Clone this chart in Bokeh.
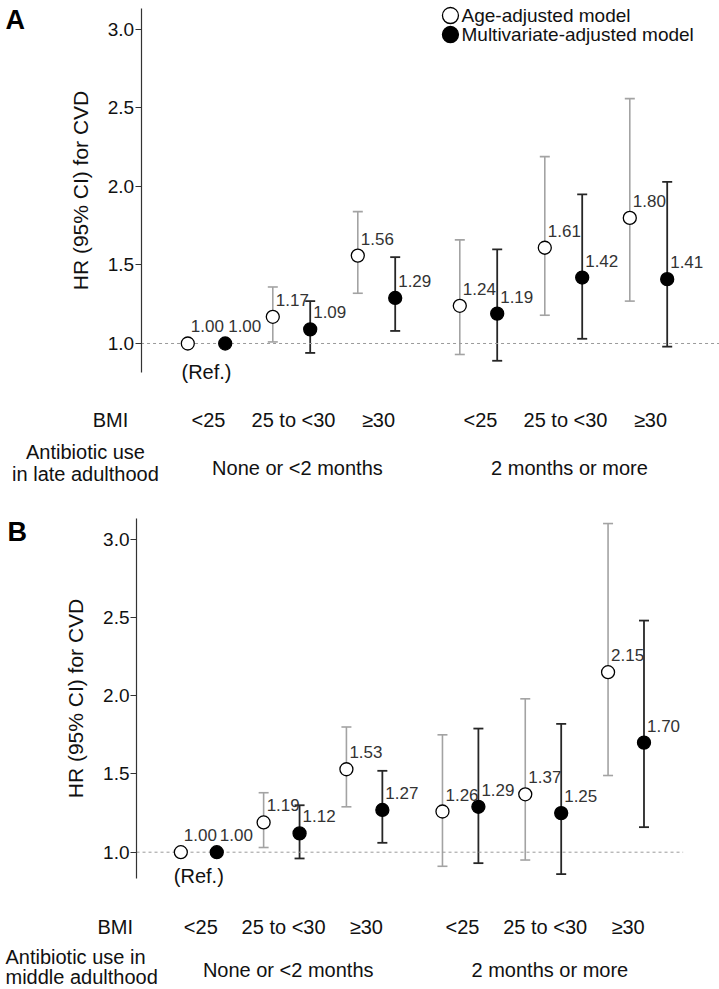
import math
from bokeh.plotting import figure
from bokeh.models import (ColumnDataSource, Whisker, TeeHead, LabelSet, Label, LinearAxis,
                          FixedTicker, NumeralTickFormatter, Range1d)
from bokeh.core.properties import value
from bokeh.layouts import column
from bokeh.embed import file_html
from bokeh.resources import INLINE

# ---------------- data ----------------
bmi_labels = ["<25", "25 to <30", "\u226530", "<25", "25 to <30", "\u226530"]
use_labels = ["None or <2 months", "2 months or more"]
y_ticks = [1.0, 1.5, 2.0, 2.5, 3.0]
legend_labels = ["Age-adjusted model", "Multivariate-adjusted model"]
y_title = "HR (95% CI) for CVD"
NA = float("nan")

# Panel A: antibiotic use in late adulthood
a_age_hr = [1.00, 1.17, 1.56, 1.24, 1.61, 1.80]
a_age_lo = [NA, 1.01, 1.32, 0.93, 1.18, 1.27]
a_age_hi = [NA, 1.36, 1.84, 1.66, 2.19, 2.56]
a_mv_hr = [1.00, 1.09, 1.29, 1.19, 1.42, 1.41]
a_mv_lo = [NA, 0.94, 1.08, 0.89, 1.03, 0.98]
a_mv_hi = [NA, 1.27, 1.55, 1.60, 1.95, 2.03]

# Panel B: antibiotic use in middle adulthood
b_age_hr = [1.00, 1.19, 1.53, 1.26, 1.37, 2.15]
b_age_lo = [NA, 1.03, 1.29, 0.91, 0.95, 1.49]
b_age_hi = [NA, 1.38, 1.80, 1.75, 1.98, 3.10]
b_mv_hr = [1.00, 1.12, 1.27, 1.29, 1.25, 1.70]
b_mv_lo = [NA, 0.96, 1.06, 0.93, 0.86, 1.16]
b_mv_hi = [NA, 1.30, 1.52, 1.79, 1.82, 2.48]

FONT = "Liberation Sans"
TXT = "#111111"
AGE_CI = "#a3a3a3"
MV_CI = "#262626"
CAT_SIZE = "20px"


def make_panel(letter, exposure_lines, age, mv, cfg):
    p = figure(width=719, height=cfg["height"], output_backend="svg",
               toolbar_location=None, x_axis_location=None, y_axis_location=None,
               x_range=Range1d(*cfg["x_range"]), y_range=Range1d(*cfg["y_range"]),
               min_border_left=0, min_border_right=0,
               min_border_top=0, min_border_bottom=0)
    p.outline_line_color = None
    p.grid.visible = False
    p.background_fill_color = "white"
    p.border_fill_color = "white"

    ya = LinearAxis(fixed_location=cfg["axis_x"], bounds=cfg["axis_bounds"])
    ya.ticker = FixedTicker(ticks=y_ticks)
    ya.formatter = NumeralTickFormatter(format="0.0")
    ya.minor_tick_line_color = None
    ya.major_tick_in = 0
    ya.major_tick_out = 6
    ya.major_tick_line_color = "#333333"
    ya.axis_line_color = "#333333"
    ya.axis_line_width = 1.2
    ya.major_label_standoff = 1
    ya.major_label_text_font = FONT
    ya.major_label_text_font_size = "19px"
    ya.major_label_text_color = TXT
    ya.axis_label = y_title
    ya.axis_label_text_font = FONT
    ya.axis_label_text_font_size = "21px"
    ya.axis_label_text_font_style = "normal"
    ya.axis_label_text_color = TXT
    ya.axis_label_standoff = cfg["title_standoff"]
    p.add_layout(ya, "left")

    gap, off = cfg["gap"], cfg["off"]
    centers = [i + (gap if i >= 3 else 0.0) for i in range(len(bmi_labels))]
    xa = [c - off for c in centers]
    xm = [c + off for c in centers]

    # reference line at HR = 1
    p.line(x=[cfg["axis_x"], cfg["ref_end"]], y=[1.0, 1.0],
           line_color="#9a9a9a", line_width=1, line_dash="3 3")

    # error bars (skip reference category without CI)
    for xs, (hr, lo, hi), col, lw in ((xa, age, AGE_CI, 1.6), (xm, mv, MV_CI, 1.8)):
        keep = [i for i in range(len(hr)) if not math.isnan(lo[i])]
        src = ColumnDataSource(dict(base=[xs[i] for i in keep],
                                    lower=[lo[i] for i in keep],
                                    upper=[hi[i] for i in keep]))
        w = Whisker(source=src, base="base", lower="lower", upper="upper",
                    dimension="height", level="underlay",
                    line_color=col, line_width=lw,
                    upper_head=TeeHead(size=10, line_color=col, line_width=lw),
                    lower_head=TeeHead(size=10, line_color=col, line_width=lw))
        p.add_layout(w)

    # points
    sa = ColumnDataSource(dict(x=xa, y=age[0], t=["%.2f" % v for v in age[0]]))
    sm = ColumnDataSource(dict(x=xm, y=mv[0], t=["%.2f" % v for v in mv[0]]))
    p.scatter("x", "y", source=sa, size=13, marker="circle",
              fill_color="white", line_color="black", line_width=1.3)
    p.scatter("x", "y", source=sm, size=13, marker="circle",
              fill_color="black", line_color="black", line_width=1.3)

    for s in (sa, sm):
        p.add_layout(LabelSet(x="x", y="y", text="t", source=s, x_offset=3, y_offset=17,
                              text_font=value(FONT), text_font_size="17px",
                              text_color="#333333", text_align="left",
                              text_baseline="middle"))

    # (Ref.)
    p.add_layout(Label(x=centers[0], y=cfg["ref_y"], text="(Ref.)", text_font=FONT,
                       text_font_size=CAT_SIZE, text_color=TXT,
                       text_align="center", text_baseline="middle"))

    # BMI row
    bsrc = ColumnDataSource(dict(x=centers, y=[cfg["bmi_y"]] * len(centers), t=bmi_labels))
    p.add_layout(LabelSet(x="x", y="y", text="t", source=bsrc, x_offset=2,
                          text_font=value(FONT), text_font_size=CAT_SIZE, text_color=TXT,
                          text_align="center", text_baseline="middle"))
    p.add_layout(Label(x=cfg["bmi_label_x"], y=cfg["bmi_y"], text="BMI", text_font=FONT,
                       text_font_size=CAT_SIZE, text_color=TXT,
                       text_align="center", text_baseline="middle"))

    # exposure group row
    gx = [(centers[0] + centers[2]) / 2 + cfg["group_dx"],
          (centers[3] + centers[5]) / 2 + cfg["group_dx"]]
    gsrc = ColumnDataSource(dict(x=gx, y=[cfg["group_y"]] * 2, t=use_labels))
    p.add_layout(LabelSet(x="x", y="y", text="t", source=gsrc,
                          text_font=value(FONT), text_font_size=CAT_SIZE, text_color=TXT,
                          text_align="center", text_baseline="middle"))
    for line_text, yy in zip(exposure_lines, cfg["exp_y"]):
        p.add_layout(Label(x=cfg["exp_x"], y=yy, text=line_text, text_font=FONT,
                           text_font_size=CAT_SIZE, text_color=TXT,
                           text_align=cfg["exp_align"], text_baseline="middle"))

    # panel letter
    p.add_layout(Label(x=cfg["letter_xy"][0], y=cfg["letter_xy"][1], text=letter,
                       text_font=FONT, text_font_size="27px", text_font_style="bold",
                       text_color="black", text_align="left", text_baseline="middle"))

    # legend (panel A only)
    if cfg.get("legend"):
        lx, ltx, ly = cfg["legend"]
        p.scatter(x=[lx], y=[ly[0]], size=16, marker="circle", fill_color="white",
                  line_color="black", line_width=1.3)
        p.scatter(x=[lx], y=[ly[1]], size=16, marker="circle", fill_color="black",
                  line_color="black", line_width=1.3)
        for txt, yy in zip(legend_labels, ly):
            p.add_layout(Label(x=ltx, y=yy, text=txt, text_font=FONT,
                               text_font_size="19px", text_color=TXT,
                               text_align="left", text_baseline="middle"))
    return p


cfg_a = dict(height=494,
             x_range=(-2.4235, 6.0353), y_range=(0.0382, 3.1847),
             axis_x=-0.77, axis_bounds=(0.815, 3.134),
             gap=0.2, off=0.22, ref_end=6.0353, title_standoff=13,
             ref_y=0.817, bmi_y=0.51, bmi_label_x=-1.13,
             group_y=0.204, group_dx=0.07,
             exp_x=-1.424, exp_y=[0.308, 0.166], exp_align="center",
             letter_xy=(-2.365, 3.059),
             legend=(2.87, 3.0, [3.089, 2.968]))

cfg_b = dict(height=495,
             x_range=(-2.395, 6.289), y_range=(0.1227, 3.2856),
             axis_x=-0.752, axis_bounds=(0.834, 3.132),
             gap=0.16, off=0.217, ref_end=5.85, title_standoff=13,
             ref_y=0.851, bmi_y=0.521, bmi_label_x=-1.01,
             group_y=0.25, group_dx=0.08,
             exp_x=-2.335, exp_y=[0.329, 0.201], exp_align="left",
             letter_xy=(-2.31, 3.049))

pa = make_panel("A", ["Antibiotic use", "in late adulthood"],
                (a_age_hr, a_age_lo, a_age_hi), (a_mv_hr, a_mv_lo, a_mv_hi), cfg_a)
pb = make_panel("B", ["Antibiotic use in", "middle adulthood"],
                (b_age_hr, b_age_lo, b_age_hi), (b_mv_hr, b_mv_lo, b_mv_hi), cfg_b)

layout = column(pa, pb, spacing=0)
open("out.html", "w").write(file_html(layout, INLINE))
